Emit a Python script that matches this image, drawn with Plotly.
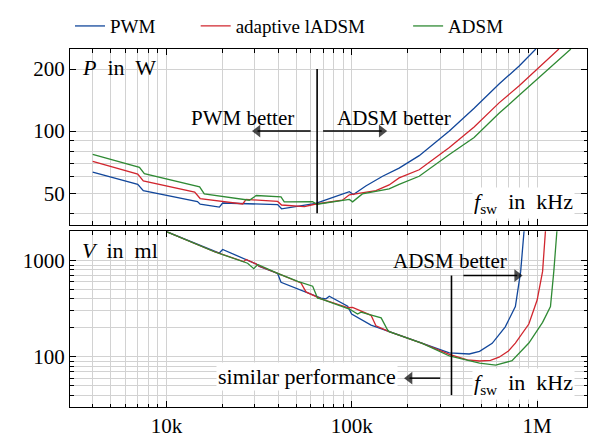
import math
import plotly.graph_objects as go

# ---------------- data (switching frequency in kHz) ----------------
# upper panel: P in W
P_f_pwm = [4, 7.0, 7.5, 14.7, 15.2, 19.3, 20.1, 39.8, 41.8, 64, 75.7, 95, 97, 102, 119, 146.6, 180, 231, 336, 457, 623, 800, 984]
P_pwm   = [63.2, 55.2, 51.4, 45.5, 44.2, 42.8, 44.8, 44.0, 42.0, 44.6, 47.1, 50.6, 50.8, 49.3, 54.2, 60.4, 66.1, 76, 100, 129, 169, 207, 250]

P_f_lad = [4, 7.0, 7.5, 14.2, 15.2, 25.8, 26.9, 39.8, 41.8, 55.5, 64, 89, 97, 135, 159, 180, 231, 336, 457, 623, 800, 1310]
P_lad   = [71.3, 61.9, 57.3, 50.6, 47.1, 44.3, 46.6, 45.6, 43.8, 43.0, 44.3, 46.2, 49.1, 51.4, 54.8, 59.3, 64.9, 83.2, 104.7, 137, 166, 250]

P_f_adsm = [4, 7.15, 7.6, 15.1, 16.0, 19.9, 28, 30.5, 41.5, 43.2, 61.4, 65, 97, 101, 114, 159, 180, 231, 336, 457, 623, 800, 1520]
P_adsm   = [77.1, 66.7, 62.1, 53.7, 49.6, 48.4, 46.2, 48.7, 48.0, 45.4, 45.5, 44.2, 46.6, 45.4, 49.6, 52.4, 55.2, 60.4, 77, 93, 122, 149, 250]

# lower panel: V in ml
V_f_pwm = [10, 18.15, 19.3, 20.1, 30.4, 31.7, 39.8, 41.5, 68.2, 72.6, 75.6, 95, 99.8, 127, 159, 240, 336, 430, 489, 572, 623, 673, 763, 815, 851]
V_pwm   = [2000, 1238, 1200, 1306, 927, 872, 737, 596, 407, 401, 427, 336, 278, 214, 183, 138, 110, 107, 114, 138, 168, 205, 333, 773, 2100]

V_f_lad = [10, 18.15, 26.1, 26.9, 30.4, 31.3, 39.8, 53.2, 56.6, 68.2, 95, 101, 127, 135, 159, 240, 336, 420, 489, 560, 623, 700, 763, 902, 1000, 1070, 1110]
V_lad   = [2000, 1238, 977, 1030, 927, 885, 737, 587, 473, 401, 324, 326, 270, 210, 183, 138, 106, 93, 90.5, 92, 99, 115, 139, 219, 389, 773, 2100]

V_f_adsm = [10, 18.15, 27.4, 29.6, 31.1, 39.8, 51.1, 61.5, 65.4, 68.2, 97, 107.5, 112, 144, 156, 159, 240, 336, 489, 574, 598, 732, 902, 1070, 1180, 1230, 1280]
V_adsm   = [2000, 1238, 940, 826, 912, 737, 610, 543, 407, 401, 314, 278, 291, 254, 190, 183, 138, 102, 86, 82.8, 82, 91, 139, 228, 333, 773, 2100]

series_names = ["PWM", "adaptive lADSM", "ADSM"]

# tick positions / labels
x_major = [1e4, 1e5, 1e6]
x_major_text = ["10k", "100k", "1M"]
x_minor = [m * 10 ** e for e in (3, 4, 5) for m in range(2, 10) if m * 10 ** e >= 3500]
P_major = [50, 100, 200]
P_minor = [40, 60, 70, 80, 90]
V_major = [100, 1000]
V_minor = [m * 10 ** e for e in (1, 2, 3) for m in range(2, 10) if 35 <= m * 10 ** e <= 2000]

# ---------------- styles ----------------
FONT = "'Liberation Serif', 'DejaVu Serif', 'Times New Roman', Times, serif"
BLUE = "#12479b"
RED = "#d1262e"
GREEN = "#2f8a34"
GRID = "#d2d2d2"
LW = 1.3


def hz(vals):
    return [v * 1000 for v in vals]


fig = go.Figure()

colors = [BLUE, RED, GREEN]
legends = ["legend", "legend2", "legend3"]
P_sets = [(P_f_pwm, P_pwm), (P_f_lad, P_lad), (P_f_adsm, P_adsm)]
V_sets = [(V_f_pwm, V_pwm), (V_f_lad, V_lad), (V_f_adsm, V_adsm)]

for name, col, lg, (pf, pv) in zip(series_names, colors, legends, P_sets):
    fig.add_trace(go.Scatter(x=hz(pf), y=pv, mode="lines", name=name,
                             line=dict(color=col, width=LW), legend=lg,
                             xaxis="x", yaxis="y"))
for name, col, (vf, vv) in zip(series_names, colors, V_sets):
    fig.add_trace(go.Scatter(x=hz(vf), y=vv, mode="lines", name=name,
                             line=dict(color=col, width=LW), showlegend=False,
                             xaxis="x2", yaxis="y2"))

# vertical separator lines
fig.add_trace(go.Scatter(x=[65000, 65000], y=[40, 200], mode="lines",
                         line=dict(color="black", width=1.6), showlegend=False,
                         xaxis="x", yaxis="y", hoverinfo="skip"))
fig.add_trace(go.Scatter(x=[345000, 345000], y=[40, 700], mode="lines",
                         line=dict(color="black", width=1.6), showlegend=False,
                         xaxis="x2", yaxis="y2", hoverinfo="skip"))


# arrows (line + triangular head marker)
def arrow_trace(tail, head, yv, xa, ya):
    sym = "triangle-right" if head > tail else "triangle-left"
    return go.Scatter(x=[tail, head], y=[yv, yv], mode="lines+markers",
                      line=dict(color="black", width=1.5),
                      marker=dict(symbol=sym, size=[0, 11],
                                  color="black", line=dict(width=0)),
                      showlegend=False, hoverinfo="skip", xaxis=xa, yaxis=ya)


fig.add_trace(arrow_trace(60000, 31000, 100, "x", "y"))
fig.add_trace(arrow_trace(70000, 145000, 100, "x", "y"))
fig.add_trace(arrow_trace(400000, 780000, 700, "x2", "y2"))
fig.add_trace(arrow_trace(300000, 205000, 60, "x2", "y2"))

tickfont = dict(family=FONT, size=21, color="black")


def xaxis_cfg(anchor, labels):
    return dict(type="log", range=[3.4796, 6.269], domain=[0, 1], anchor=anchor,
                showline=True, linecolor="black", linewidth=1, mirror="ticks",
                ticks="inside", ticklen=6, tickwidth=1, tickcolor="black",
                tickvals=x_major, ticktext=x_major_text, showticklabels=labels,
                showgrid=True, gridcolor=GRID, gridwidth=1, zeroline=False,
                tickfont=tickfont,
                minor=dict(tickvals=x_minor, ticks="inside", ticklen=3.5,
                           tickcolor="black", tickwidth=1, showgrid=True,
                           gridcolor=GRID, gridwidth=1))


def yaxis_cfg(anchor, rng, dom, major, minor):
    return dict(type="log", range=rng, domain=dom, anchor=anchor,
                showline=True, linecolor="black", linewidth=1, mirror="ticks",
                ticks="inside", ticklen=6, tickwidth=1, tickcolor="black",
                tickvals=major, ticktext=[str(v) for v in major],
                showgrid=True, gridcolor=GRID, gridwidth=1, zeroline=False,
                tickfont=tickfont,
                minor=dict(tickvals=minor, ticks="inside", ticklen=3.5,
                           tickcolor="black", tickwidth=1, showgrid=True,
                           gridcolor=GRID, gridwidth=1))


legend_common = dict(orientation="h", yanchor="middle", y=1.064, xanchor="left",
                     bgcolor="rgba(0,0,0,0)", font=dict(family=FONT, size=19, color="black"))

fig.update_layout(
    width=595, height=445,
    margin=dict(l=70, r=7, t=38, b=32),
    paper_bgcolor="white", plot_bgcolor="white",
    font=dict(family=FONT, size=20, color="black"),
    xaxis=xaxis_cfg("y", False),
    xaxis2=xaxis_cfg("y2", True),
    yaxis=yaxis_cfg("x", [1.5462, 2.398], [0.5093, 1], P_major, P_minor),
    yaxis2=yaxis_cfg("x2", [1.478, 3.305], [0, 0.4907], V_major, V_minor),
    legend=dict(legend_common, x=0.0),
    legend2=dict(legend_common, x=0.2431),
    legend3=dict(legend_common, x=0.654),
)

ann = []


def text(t, x, y, yref, xanchor="center", bg=None, size=21):
    d = dict(text=t, x=x, y=y, xref="x domain", yref=yref, xanchor=xanchor,
             yanchor="middle", showarrow=False,
             font=dict(family=FONT, size=size, color="black"))
    if bg:
        d.update(bgcolor=bg, borderpad=1)
    return d


ann.append(text("<i>P</i>&nbsp; in&nbsp; W", 0.0193, 0.893, "y domain", xanchor="left", size=22))
ann.append(text("PWM better", 0.3338, 0.610, "y domain"))
ann.append(text("ADSM better", 0.627, 0.610, "y domain"))
ann.append(text("<i>f</i><sub>sw</sub>&nbsp; in&nbsp; kHz", 0.878, 0.125, "y domain", bg="white", size=22))

ann.append(text("<i>V</i>&nbsp; in&nbsp; ml", 0.0193, 0.890, "y2 domain", xanchor="left", size=22))
ann.append(text("ADSM better", 0.735, 0.8315, "y2 domain"))
ann.append(text("similar performance", 0.4582, 0.1755, "y2 domain", bg="white", size=22))
ann.append(text("<i>f</i><sub>sw</sub>&nbsp; in&nbsp; kHz", 0.878, 0.13, "y2 domain", bg="white", size=22))

fig.update_layout(annotations=ann)

fig.write_html("out.html")
